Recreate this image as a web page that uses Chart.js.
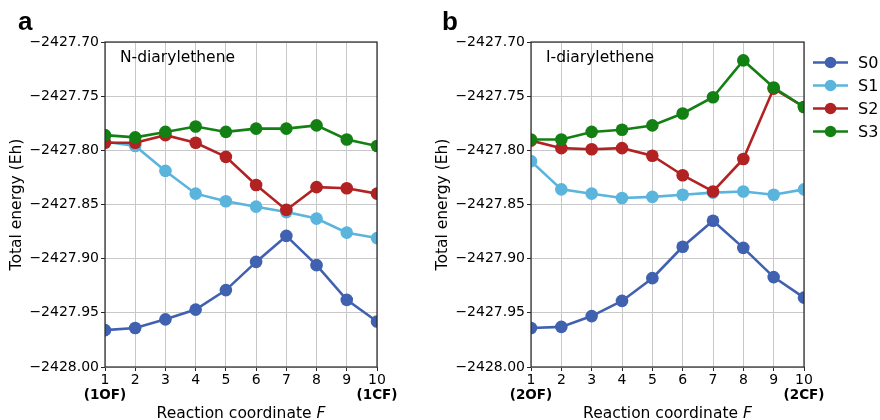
<!DOCTYPE html>
<html>
<head>
<meta charset="utf-8">
<title>Diarylethene energies</title>
<script src="https://cdn.jsdelivr.net/npm/chart.js@4/dist/chart.umd.min.js"></script>
<style>
  html, body { margin: 0; padding: 0; background: #fff; }
  #wrap { position: relative; width: 880px; height: 420px; }
  .panel { position: absolute; top: 0; height: 420px; }
  #panelA { left: 0; width: 440px; }
  #panelB { left: 426px; width: 454px; }
</style>
</head>
<body>
<div id="wrap">
  <div class="panel" id="panelA"><canvas id="chartA"></canvas></div>
  <div class="panel" id="panelB"><canvas id="chartB"></canvas></div>
</div>
<script>
// reaction coordinate steps and axis ticks
const steps = [1, 2, 3, 4, 5, 6, 7, 8, 9, 10];
const yTicks = [-2428.00, -2427.95, -2427.90, -2427.85, -2427.80, -2427.75, -2427.70];

const stateNames = ['S0', 'S1', 'S2', 'S3'];
const stateColors = ['#4060b0', '#5ab4dc', '#b22222', '#138013'];

// N-diarylethene (Eh)
const nS0 = [-2427.966, -2427.964, -2427.956, -2427.947, -2427.929, -2427.903, -2427.879, -2427.906, -2427.938, -2427.958];
const nS1 = [-2427.792, -2427.796, -2427.819, -2427.840, -2427.847, -2427.852, -2427.857, -2427.863, -2427.876, -2427.881];
const nS2 = [-2427.793, -2427.793, -2427.786, -2427.793, -2427.806, -2427.832, -2427.855, -2427.834, -2427.835, -2427.840];
const nS3 = [-2427.786, -2427.788, -2427.783, -2427.778, -2427.783, -2427.780, -2427.780, -2427.777, -2427.790, -2427.796];
const nEnds = ['(1OF)', '(1CF)'];

// I-diarylethene (Eh)
const iS0 = [-2427.964, -2427.963, -2427.953, -2427.939, -2427.918, -2427.889, -2427.865, -2427.890, -2427.917, -2427.936];
const iS1 = [-2427.810, -2427.836, -2427.840, -2427.844, -2427.843, -2427.841, -2427.839, -2427.838, -2427.841, -2427.836];
const iS2 = [-2427.791, -2427.798, -2427.799, -2427.798, -2427.805, -2427.823, -2427.838, -2427.808, -2427.743, -2427.760];
const iS3 = [-2427.790, -2427.790, -2427.783, -2427.781, -2427.777, -2427.766, -2427.751, -2427.717, -2427.742, -2427.760];
const iEnds = ['(2OF)', '(2CF)'];

const FONT = '"DejaVu Sans", sans-serif';

// frame, panel letter, molecule name, endpoint tags, x title and legend
const panelDecor = {
  id: 'panelDecor',
  afterDraw(chart, args, opts) {
    const { ctx, chartArea: area } = chart;
    const x = chart.scales.x;
    ctx.save();

    ctx.strokeStyle = '#262626';
    ctx.lineWidth = 1.2;
    ctx.strokeRect(area.left, area.top, area.right - area.left, area.bottom - area.top);

    ctx.fillStyle = '#000';
    ctx.textBaseline = 'alphabetic';
    ctx.textAlign = 'left';
    ctx.font = 'bold 26px "Liberation Sans", sans-serif';
    ctx.fillText(opts.letter, opts.letterX, 30);

    ctx.font = '15.5px ' + FONT;
    ctx.textBaseline = 'middle';
    ctx.fillText(opts.name, area.left + 15, 58);

    ctx.font = 'bold 13.5px ' + FONT;
    ctx.textAlign = 'center';
    ctx.textBaseline = 'alphabetic';
    ctx.fillText(opts.ends[0], x.getPixelForValue(steps[0]), 399);
    ctx.fillText(opts.ends[1], x.getPixelForValue(steps[steps.length - 1]), 399);

    // "Reaction coordinate F" with italic F
    const plain = 'Reaction coordinate ';
    ctx.font = '15.5px ' + FONT;
    const w1 = ctx.measureText(plain).width;
    ctx.font = 'italic 15.5px ' + FONT;
    const w2 = ctx.measureText('F').width;
    let tx = (area.left + area.right) / 2 - (w1 + w2) / 2;
    ctx.textAlign = 'left';
    ctx.font = '15.5px ' + FONT;
    ctx.fillText(plain, tx, 418);
    ctx.font = 'italic 15.5px ' + FONT;
    ctx.fillText('F', tx + w1, 418);

    if (opts.legend) {
      const lx = area.right + 9;
      chart.data.datasets.forEach((ds, i) => {
        const ly = 62.5 + 23 * i;
        ctx.strokeStyle = ds.borderColor;
        ctx.lineWidth = 2.5;
        ctx.beginPath();
        ctx.moveTo(lx, ly);
        ctx.lineTo(lx + 35, ly);
        ctx.stroke();
        ctx.fillStyle = ds.borderColor;
        ctx.beginPath();
        ctx.arc(lx + 17.5, ly, 5.8, 0, Math.PI * 2);
        ctx.fill();
        ctx.fillStyle = '#000';
        ctx.font = '16px ' + FONT;
        ctx.textBaseline = 'middle';
        ctx.fillText(ds.label, lx + 45, ly + 1);
      });
    }
    ctx.restore();
  }
};

function makeChart(canvasId, series, decor, padRight) {
  const datasets = series.map((vals, i) => ({
    label: stateNames[i],
    data: steps.map((s, k) => ({ x: s, y: vals[k] })),
    borderColor: stateColors[i],
    backgroundColor: stateColors[i],
    pointBackgroundColor: stateColors[i],
    pointBorderWidth: 0,
    pointRadius: 6.3,
    pointHoverRadius: 6.3,
    borderWidth: 2.6,
    tension: 0,
    clip: 0,
    order: series.length - i
  }));

  return new Chart(document.getElementById(canvasId), {
    type: 'line',
    data: { datasets },
    options: {
      responsive: true,
      maintainAspectRatio: false,
      animation: false,
      events: [],
      layout: { padding: { top: 42, right: padRight, bottom: 0, left: 0 } },
      scales: {
        x: {
          type: 'linear',
          min: 1,
          max: 10,
          afterBuildTicks: s => { s.ticks = steps.map(v => ({ value: v })); },
          afterFit: s => { s.height = 53; },
          ticks: {
            color: '#000',
            font: { family: FONT, size: 14 },
            padding: 1,
            maxRotation: 0,
            autoSkip: false,
            callback: v => String(v)
          },
          grid: { color: '#c8c8c8', lineWidth: 1, tickColor: '#262626', tickLength: 4 },
          border: { display: false }
        },
        y: {
          type: 'linear',
          min: -2428.0,
          max: -2427.7,
          afterBuildTicks: s => { s.ticks = yTicks.map(v => ({ value: v })); },
          afterFit: s => { s.width = 105; },
          ticks: {
            color: '#000',
            font: { family: FONT, size: 14 },
            padding: 2,
            callback: v => '\u2212' + Math.abs(v).toFixed(2)
          },
          grid: { color: '#c8c8c8', lineWidth: 1, tickColor: '#262626', tickLength: 4 },
          border: { display: false },
          title: {
            display: true,
            text: 'Total energy (Eh)',
            color: '#000',
            font: { family: FONT, size: 15.5 },
            padding: { top: 8, bottom: 0 }
          }
        }
      },
      plugins: {
        legend: { display: false },
        tooltip: { enabled: false },
        panelDecor: decor
      }
    },
    plugins: [panelDecor]
  });
}

makeChart('chartA', [nS0, nS1, nS2, nS3],
  { letter: 'a', letterX: 18, name: 'N-diarylethene', ends: nEnds, legend: false }, 63);
makeChart('chartB', [iS0, iS1, iS2, iS3],
  { letter: 'b', letterX: 16, name: 'I-diarylethene', ends: iEnds, legend: true }, 76);
</script>
</body>
</html>
